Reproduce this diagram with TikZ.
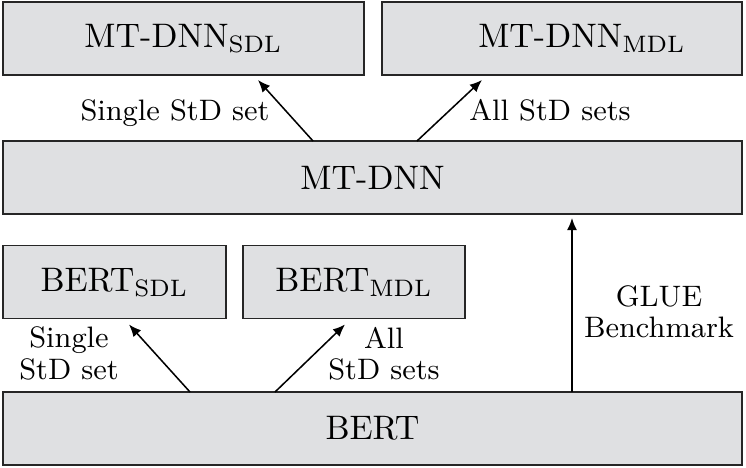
\documentclass[tikz,border=0pt]{standalone}
\usetikzlibrary{arrows.meta,calc}
\definecolor{boxfill}{RGB}{223,224,226}
\begin{document}
\begin{tikzpicture}[x=0.29412pt,y=-0.29412pt,
  box/.style={draw=black!85,fill=boxfill,line width=0.5pt,minimum height=21.47pt,inner sep=0pt,outer sep=0pt,font=\fontsize{10}{12}\selectfont},
  lbl/.style={font=\fontsize{8.7}{9.25}\selectfont,align=center,inner sep=0pt},
  arr/.style={-{Latex[length=3.6pt,width=3pt]},line width=0.45pt}]
\useasboundingbox (0,0) rectangle (746,468);
\node[box,minimum width=106.18pt] (sdl) at (183.5,38.5) {MT-DNN$_{\mathrm{SDL}}$};
\node[box,minimum width=105.88pt] (mdl) at (562,38.5) {\hspace*{11.76pt}MT-DNN$_{\mathrm{MDL}}$};
\node[box,minimum width=217.35pt] (mtdnn) at (372.5,177.5) {MT-DNN};
\node[box,minimum width=65.59pt] (bsdl) at (114.5,282) {BERT$_{\mathrm{SDL}}$};
\node[box,minimum width=65.29pt] (bmdl) at (354,282) {BERT$_{\mathrm{MDL}}$};
\node[box,minimum width=217.35pt] (bert) at (372.5,428.5) {BERT};
\draw[arr] ($(mtdnn.north west)+(310,0)$) -- ($(sdl.south west)+(255,5)$);
\draw[arr] ($(mtdnn.north west)+(414,0)$) -- ($(mdl.south west)+(100,5)$);
\draw[arr] ($(bert.north west)+(187,0)$) -- ($(bsdl.south west)+(126,6)$);
\draw[arr] ($(bert.north west)+(272,0)$) -- ($(bmdl.south west)+(102,6)$);
\draw[arr] ($(bert.north west)+(569,0)$) -- ($(mtdnn.south west)+(569,4)$);
\node[lbl,anchor=base] (l1) at (175,121) {Single StD set};
\node[lbl,anchor=base] (l2) at (550,121) {All StD sets};
\node[lbl] (l3) at (69,353.5) {Single\\StD set};
\node[lbl] (l4) at (384,353.5) {All\\StD sets};
\node[lbl] (l5) at (659,312) {GLUE\\Benchmark};
\end{tikzpicture}
\end{document}
